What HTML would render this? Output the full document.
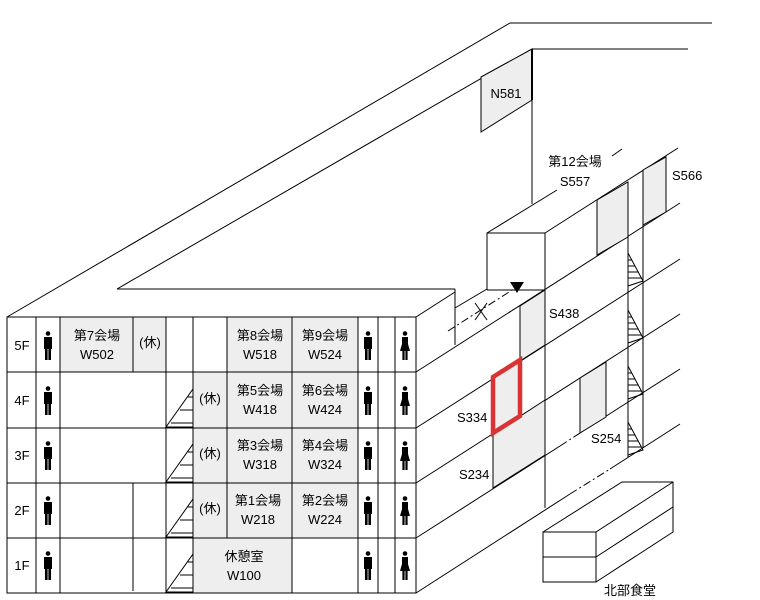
<!DOCTYPE html>
<html><head><meta charset="utf-8"><style>
html,body{margin:0;padding:0;background:#fff}
svg{display:block}
text{font-family:"Liberation Sans","Noto Sans CJK JP",sans-serif;font-size:13px;fill:#000}
</style></head><body>
<svg width="760" height="600" viewBox="0 0 760 600" xmlns="http://www.w3.org/2000/svg">
<defs>
<g id="m"><circle cx="0" cy="-12.5" r="2.3"/><rect x="-4" y="-9" width="8" height="12"/><rect x="-3" y="2" width="2.6" height="12"/><rect x="0.4" y="2" width="2.6" height="12"/></g>
<g id="f"><circle cx="0" cy="-12.5" r="2.3"/><rect x="-3" y="-9" width="6" height="7"/><polygon points="-3,-2 3,-2 5,5 -5,5"/><rect x="-2.6" y="5" width="2.2" height="9"/><rect x="0.4" y="5" width="2.2" height="9"/></g>
<g id="st"><polygon points="0,0 27,-38 27,0" fill="none" stroke="#000"/><line x1="22" y1="-30" x2="27" y2="-30" stroke="#000"/><line x1="14" y1="-17" x2="27" y2="-17" stroke="#000"/><line x1="5" y1="-4" x2="27" y2="-4" stroke="#000"/></g>
<g id="ht"><polyline points="0,0 15,28 0,33" fill="none" stroke="#000"/><line x1="0" y1="7" x2="4" y2="7" stroke="#000"/><line x1="0" y1="13" x2="7" y2="13" stroke="#000"/><line x1="0" y1="19" x2="10" y2="19" stroke="#000"/><line x1="0" y1="25" x2="13" y2="25" stroke="#000"/></g>
</defs>
<g stroke="#000" stroke-width="1" fill="none">
<polyline points="7,317 510,23 712,23"/>
<polyline points="117,289 532,49 688,49"/>
<line x1="117" y1="289" x2="455" y2="289"/>
<polygon points="481,77 532,49 532,100 481,132" fill="#eee"/>
<line x1="532" y1="49" x2="532" y2="100" stroke-width="2"/>
<line x1="532" y1="100" x2="532" y2="204"/>
<line x1="416" y1="317" x2="455" y2="292"/>
<line x1="455" y1="289" x2="455" y2="345"/>
<line x1="455" y1="308" x2="487" y2="289"/>
<line x1="448" y1="331" x2="520" y2="285" stroke-dasharray="8,3,2,3"/>
<line x1="475" y1="303" x2="487" y2="320"/><line x1="487" y1="303" x2="475" y2="320"/>
<polyline points="487,290 487,233 545,233 545,508"/>
<line x1="487" y1="290" x2="545" y2="290"/>
<line x1="487" y1="233" x2="557" y2="190"/>
<line x1="545" y1="233" x2="678" y2="148"/>
<line x1="612" y1="156" x2="622" y2="149"/>
<line x1="416" y1="372" x2="680" y2="203"/>
<line x1="416" y1="428" x2="680" y2="259"/>
<line x1="416" y1="483" x2="680" y2="314"/>
<line x1="416" y1="538" x2="560" y2="446"/><line x1="560" y1="446" x2="600" y2="420" stroke-dasharray="8,3,2,3"/><line x1="600" y1="420" x2="680" y2="369"/>
<line x1="416" y1="593" x2="570" y2="494"/><line x1="570" y1="494" x2="610" y2="469" stroke-dasharray="8,3,2,3"/><line x1="610" y1="469" x2="680" y2="424"/>
<polygon points="520,306 545,290 545,345 520,361" fill="#eee"/>
<polygon points="493,434 545,400 545,455 493,488" fill="#eee"/>
<polygon points="597,200 628,182 628,237 597,255" fill="#eee"/>
<polygon points="643,170 666,157 666,212 643,225" fill="#eee"/>
<polygon points="580,378 606,362 606,417 580,433" fill="#eee"/>
<line x1="628" y1="182" x2="628" y2="457"/>
<line x1="643" y1="170" x2="643" y2="448"/>
<polygon points="493,377 520,360 520,416 493,433" fill="#eee" stroke="#d93333" stroke-width="4.5"/>
<use href="#ht" x="628" y="253"/><use href="#ht" x="628" y="310"/><use href="#ht" x="628" y="366"/><use href="#ht" x="628" y="422"/>
<rect x="543" y="532" width="53" height="50"/>
<line x1="543" y1="557" x2="596" y2="557"/>
<polyline points="543,532 622,482 673,482 673,532 596,582"/>
<line x1="596" y1="532" x2="673" y2="482"/>
<line x1="596" y1="557" x2="673" y2="507"/>
<rect x="60" y="317" width="106" height="55" fill="#eee"/>
<rect x="227" y="317" width="131" height="221" fill="#eee"/>
<rect x="193" y="372" width="34" height="166" fill="#eee"/>
<rect x="193" y="538" width="99" height="55" fill="#eee"/>
<rect x="7" y="317" width="409" height="276"/>
<line x1="7" y1="372" x2="416" y2="372"/><line x1="7" y1="428" x2="416" y2="428"/><line x1="7" y1="483" x2="416" y2="483"/><line x1="7" y1="538" x2="416" y2="538"/>
<line x1="36" y1="317" x2="36" y2="593"/><line x1="60" y1="317" x2="60" y2="593"/>
<line x1="133" y1="317" x2="133" y2="372"/><line x1="133" y1="483" x2="133" y2="591"/>
<line x1="166" y1="317" x2="166" y2="593"/><line x1="193" y1="317" x2="193" y2="593"/>
<line x1="227" y1="317" x2="227" y2="538"/><line x1="292" y1="317" x2="292" y2="593"/>
<line x1="358" y1="317" x2="358" y2="593"/><line x1="378" y1="317" x2="378" y2="593"/><line x1="395" y1="317" x2="395" y2="593"/>
<use href="#st" x="166" y="427"/><use href="#st" x="166" y="482"/><use href="#st" x="166" y="537"/><use href="#st" x="166" y="592"/>
</g>
<polygon points="510,282 524,282 517,293" fill="#000"/>
<g fill="#000">
<use href="#m" x="48" y="346"/><use href="#m" x="48" y="401"/><use href="#m" x="48" y="456"/><use href="#m" x="48" y="511"/><use href="#m" x="48" y="566"/>
<use href="#m" x="368" y="346"/><use href="#m" x="368" y="401"/><use href="#m" x="368" y="456"/><use href="#m" x="368" y="511"/><use href="#m" x="368" y="566"/>
<use href="#f" x="405" y="346"/><use href="#f" x="405" y="401"/><use href="#f" x="405" y="456"/><use href="#f" x="405" y="511"/><use href="#f" x="405" y="566"/>
</g>
<g text-anchor="middle">
<text x="22" y="350">5F</text><text x="22" y="405">4F</text><text x="22" y="460">3F</text><text x="22" y="515">2F</text><text x="22" y="570">1F</text>
<text x="97" y="340">第7会場</text><text x="97" y="359">W502</text>
<text x="150" y="347">(休)</text>
<text x="260" y="340">第8会場</text><text x="260" y="359">W518</text>
<text x="325" y="340">第9会場</text><text x="325" y="359">W524</text>
<text x="210" y="403">(休)</text><text x="260" y="395">第5会場</text><text x="260" y="414">W418</text><text x="325" y="395">第6会場</text><text x="325" y="414">W424</text>
<text x="210" y="458">(休)</text><text x="260" y="450">第3会場</text><text x="260" y="469">W318</text><text x="325" y="450">第4会場</text><text x="325" y="469">W324</text>
<text x="210" y="513">(休)</text><text x="258" y="505">第1会場</text><text x="258" y="524">W218</text><text x="325" y="505">第2会場</text><text x="325" y="524">W224</text>
<text x="244" y="561">休憩室</text><text x="244" y="580">W100</text>
<text x="506" y="98">N581</text>
<text x="575" y="166">第12会場</text><text x="575" y="186">S557</text>
</g>
<text x="672" y="180">S566</text>
<text x="549" y="318">S438</text>
<text x="457" y="422">S334</text>
<text x="459" y="479">S234</text>
<text x="591" y="443">S254</text>
<text x="604" y="595">北部食堂</text>
</svg>
</body></html>
